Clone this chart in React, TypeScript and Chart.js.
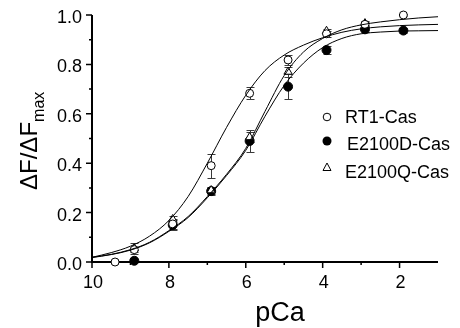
import { useEffect, useRef } from 'react';
import { Chart, registerables } from 'chart.js';
Chart.register(...registerables);

// ---- data ----
const seriesLabels = ['RT1-Cas', 'E2100D-Cas', 'E2100Q-Cas'];

const rt1PCa = [9.4, 8.9, 7.9, 6.9, 5.9, 4.9, 3.9, 2.9, 1.9];
const rt1Values = [0.0, 0.05, 0.154, 0.39, 0.683, 0.818, 0.924, 0.962, 1.0];
const rt1Errors = [0, 0.01, 0.02, 0.048, 0.025, 0.02, 0.012, 0.008, 0.005];

const dPCa = [8.9, 7.9, 6.9, 5.9, 4.9, 3.9, 2.9, 1.9];
const dValues = [0.005, 0.15, 0.287, 0.49, 0.71, 0.858, 0.942, 0.937];
const dErrors = [0, 0.02, 0.015, 0.045, 0.05, 0.015, 0.01, 0.01];

const qPCa = [8.9, 7.9, 6.9, 5.9, 4.9, 3.9, 2.9];
const qValues = [0.055, 0.173, 0.29, 0.505, 0.77, 0.935, 0.966];
const qErrors = [0.022, 0.012, 0.015, 0.02, 0.02, 0.01, 0.01];

// fitted curves
const fitPCa = [10, 9.5, 9, 8.5, 8, 7.5, 7, 6.5, 6, 5.5, 5, 4.5, 4, 3.5, 3, 2.5, 2, 1.5, 1];
const rt1Fit = [0.019, 0.038, 0.064, 0.105, 0.168, 0.265, 0.4, 0.545, 0.675, 0.775, 0.838, 0.878, 0.908, 0.93, 0.944, 0.952, 0.957, 0.96, 0.962];
const dFit = [0.018, 0.03, 0.048, 0.078, 0.124, 0.18, 0.26, 0.35, 0.452, 0.59, 0.715, 0.805, 0.868, 0.905, 0.924, 0.931, 0.935, 0.936, 0.937];
const qFit = [0.019, 0.031, 0.05, 0.08, 0.127, 0.184, 0.265, 0.355, 0.46, 0.61, 0.755, 0.85, 0.905, 0.94, 0.96, 0.972, 0.981, 0.988, 0.993];

const xMajorTicks = [10, 8, 6, 4, 2];
const xMinorTicks = [9, 7, 5, 3];
const xTickLabels = ['10', '8', '6', '4', '2'];
const yMajorTicks = [0, 0.2, 0.4, 0.6, 0.8, 1.0];
const yMinorTicks = [0.1, 0.3, 0.5, 0.7, 0.9];
const yTickLabels = ['0.0', '0.2', '0.4', '0.6', '0.8', '1.0'];

const FONT = "'Liberation Sans', Arial, Helvetica, sans-serif";

const pts = (xs: number[], ys: number[]) => xs.map((x, i) => ({ x, y: ys[i] }));

const overlay = {
  id: 'overlay',
  beforeDatasetsDraw(chart: any) {
    const { ctx } = chart;
    const x = chart.scales.x;
    const y = chart.scales.y;
    ctx.save();
    // error bars
    ctx.strokeStyle = '#3a3a3a';
    ctx.lineWidth = 1;
    chart.data.datasets.forEach((ds: any) => {
      const errs = ds.errors;
      if (!errs) return;
      ds.data.forEach((p: any, j: number) => {
        const e = errs[j];
        if (!e) return;
        const px = Math.round(x.getPixelForValue(p.x)) + 0.5;
        const t = Math.round(y.getPixelForValue(p.y + e)) + 0.5;
        const b = Math.round(y.getPixelForValue(p.y - e)) + 0.5;
        ctx.beginPath();
        ctx.moveTo(px, t); ctx.lineTo(px, b);
        ctx.moveTo(px - 4, t); ctx.lineTo(px + 4, t);
        ctx.moveTo(px - 4, b); ctx.lineTo(px + 4, b);
        ctx.stroke();
      });
    });
    // axes
    const x0 = x.getPixelForValue(10);
    const x1 = x.getPixelForValue(1);
    const y0 = y.getPixelForValue(0);
    const y1 = y.getPixelForValue(1);
    ctx.strokeStyle = '#000';
    ctx.lineWidth = 2;
    ctx.beginPath();
    ctx.moveTo(x0, y0 + 1); ctx.lineTo(x0, y1);
    ctx.moveTo(x0 - 1, y0); ctx.lineTo(x1, y0);
    ctx.stroke();
    ctx.lineWidth = 1.5;
    ctx.beginPath();
    yMajorTicks.forEach((v) => { const py = y.getPixelForValue(v); ctx.moveTo(x0 - 6, py); ctx.lineTo(x0, py); });
    yMinorTicks.forEach((v) => { const py = y.getPixelForValue(v); ctx.moveTo(x0 - 3, py); ctx.lineTo(x0, py); });
    xMajorTicks.forEach((v) => { const px = x.getPixelForValue(v); ctx.moveTo(px, y0); ctx.lineTo(px, y0 + 6); });
    xMinorTicks.forEach((v) => { const px = x.getPixelForValue(v); ctx.moveTo(px, y0); ctx.lineTo(px, y0 + 3); });
    ctx.stroke();
    ctx.restore();
  },
  afterDraw(chart: any) {
    const { ctx } = chart;
    const x = chart.scales.x;
    const y = chart.scales.y;
    const x0 = x.getPixelForValue(10);
    const y0 = y.getPixelForValue(0);
    ctx.save();
    ctx.fillStyle = '#000';
    // tick labels
    ctx.font = `18px ${FONT}`;
    ctx.textAlign = 'right';
    ctx.textBaseline = 'alphabetic';
    yMajorTicks.forEach((v, i) => ctx.fillText(yTickLabels[i], x0 - 10, y.getPixelForValue(v) + 8));
    ctx.textAlign = 'center';
    xMajorTicks.forEach((v, i) => ctx.fillText(xTickLabels[i], x.getPixelForValue(v) + 1, y0 + 26));
    // x title
    ctx.font = `27px ${FONT}`;
    ctx.fillText('pCa', 280, 321);
    // y title
    ctx.save();
    ctx.translate(37, 190);
    ctx.rotate(-Math.PI / 2);
    ctx.textAlign = 'left';
    ctx.font = `24px ${FONT}`;
    const main = 'ΔF/ΔF';
    ctx.fillText(main, 0, 0);
    const w = ctx.measureText(main).width;
    ctx.font = `16px ${FONT}`;
    ctx.fillText('max', w, 7);
    ctx.restore();
    // legend
    ctx.lineWidth = 1;
    ctx.strokeStyle = '#000';
    const lx = 327;
    ctx.beginPath(); ctx.arc(lx, 117, 3.8, 0, Math.PI * 2);
    ctx.fillStyle = '#fff'; ctx.fill(); ctx.stroke();
    ctx.beginPath(); ctx.arc(lx, 141, 4.5, 0, Math.PI * 2);
    ctx.fillStyle = '#000'; ctx.fill();
    ctx.beginPath();
    ctx.moveTo(lx, 163); ctx.lineTo(lx + 4, 170.5); ctx.lineTo(lx - 4, 170.5); ctx.closePath();
    ctx.fillStyle = '#fff'; ctx.fill(); ctx.stroke();
    ctx.fillStyle = '#000';
    ctx.font = `18px ${FONT}`;
    ctx.textAlign = 'left';
    ctx.fillText(seriesLabels[0], 345, 123);
    ctx.fillText(seriesLabels[1], 347, 150);
    ctx.fillText(seriesLabels[2], 345, 178);
    ctx.restore();
  },
};

export default function App() {
  const ref = useRef<HTMLCanvasElement>(null);
  useEffect(() => {
    const canvas = ref.current!;
    const curve = (data: number[], order: number) => ({
      data: pts(fitPCa, data),
      showLine: true,
      pointRadius: 0,
      borderColor: '#000',
      borderWidth: 1,
      cubicInterpolationMode: 'monotone',
      order,
      clip: false,
    });
    const chart = new Chart(canvas, {
      type: 'scatter',
      data: {
        datasets: [
          curve(rt1Fit, 0) as any,
          curve(dFit, 0) as any,
          curve(qFit, 0) as any,
          {
            label: seriesLabels[0],
            data: pts(rt1PCa, rt1Values),
            errors: rt1Errors,
            pointStyle: 'circle',
            pointRadius: 4,
            backgroundColor: '#fff',
            borderColor: '#000',
            borderWidth: 1,
            order: 1,
            clip: false,
          } as any,
          {
            label: seriesLabels[2],
            data: pts(qPCa, qValues),
            errors: qErrors,
            pointStyle: 'triangle',
            pointRadius: 4.8,
            backgroundColor: '#fff',
            borderColor: '#000',
            borderWidth: 1,
            order: 2,
            clip: false,
          } as any,
          {
            label: seriesLabels[1],
            data: pts(dPCa, dValues),
            errors: dErrors,
            pointStyle: 'circle',
            pointRadius: 4.5,
            backgroundColor: '#000',
            borderColor: '#000',
            borderWidth: 1,
            order: 3,
            clip: false,
          } as any,
        ],
      },
      options: {
        responsive: false,
        animation: false,
        devicePixelRatio: 1,
        events: [],
        layout: { padding: { left: 92, right: 22, top: 15, bottom: 66 } },
        scales: {
          x: { type: 'linear', min: 1, max: 10, reverse: true, display: false },
          y: { type: 'linear', min: 0, max: 1, display: false },
        },
        plugins: { legend: { display: false }, tooltip: { enabled: false } },
      },
      plugins: [overlay],
    });
    return () => chart.destroy();
  }, []);
  return (
    <div style={{ position: 'absolute', left: 0, top: 0, width: 460, height: 328, background: '#fff' }}>
      <canvas ref={ref} width={460} height={328} style={{ display: 'block' }} />
    </div>
  );
}
